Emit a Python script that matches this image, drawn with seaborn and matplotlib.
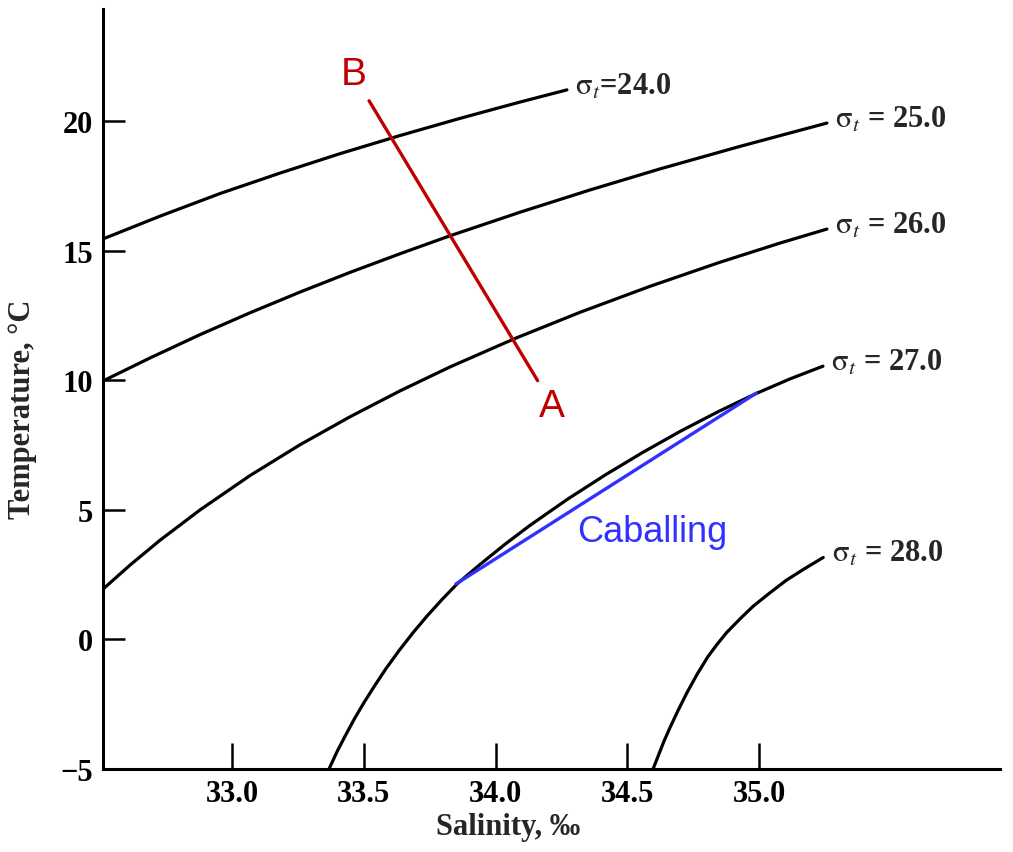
import matplotlib
matplotlib.use("Agg")
import matplotlib.pyplot as plt
import pandas as pd
import seaborn as sns

# Isopycnals of sigma-t on a T-S diagram (salinity in per mille, temperature in deg C)
sigma_levels = ["24.0", "25.0", "26.0", "27.0", "28.0"]

sal_24 = [32.510, 32.727, 32.954, 33.182, 33.410, 33.638, 33.865, 34.093, 34.271]
temp_24 = [15.45, 16.33, 17.20, 17.99, 18.74, 19.44, 20.10, 20.73, 21.20]

sal_25 = [32.510, 32.689, 32.879, 33.068, 33.258, 33.448, 33.638, 33.827,
          34.093, 34.359, 34.624, 34.928, 35.258]
temp_25 = [9.97, 10.86, 11.76, 12.60, 13.40, 14.16, 14.88, 15.57,
           16.48, 17.34, 18.15, 19.02, 19.92]

sal_26 = [32.510, 32.613, 32.727, 32.879, 33.068, 33.258, 33.448, 33.638,
          33.827, 34.074, 34.321, 34.586, 34.852, 35.080, 35.258]
temp_26 = [1.94, 2.87, 3.83, 5.00, 6.32, 7.51, 8.59, 9.59,
           10.51, 11.61, 12.62, 13.62, 14.55, 15.29, 15.83]

sal_27 = [33.368, 33.398, 33.429, 33.463, 33.501, 33.543, 33.584, 33.634,
          33.687, 33.740, 33.797, 33.854, 33.941, 34.036, 34.131, 34.275,
          34.419, 34.560, 34.700, 34.844, 34.988, 35.118, 35.243]
temp_27 = [-5.00, -4.34, -3.73, -3.09, -2.43, -1.76, -1.13, -0.43,
           0.26, 0.90, 1.54, 2.14, 2.89, 3.67, 4.40, 5.42,
           6.36, 7.22, 8.02, 8.78, 9.48, 10.05, 10.54]

sal_28 = [34.598, 34.617, 34.639, 34.662, 34.693, 34.727, 34.765, 34.806,
          34.841, 34.877, 34.928, 34.978, 35.042, 35.105, 35.175, 35.244]
temp_28 = [-5.00, -4.51, -3.94, -3.41, -2.74, -2.05, -1.35, -0.67,
           -0.19, 0.26, 0.79, 1.28, 1.80, 2.29, 2.74, 3.16]

# Mixing line B-A and the caballing segment
mix_sal = [33.52, 34.16]
mix_temp = [20.78, 9.98]
cab_sal = [33.85, 34.99]
cab_temp = [2.14, 9.50]

x_ticks = [33.0, 33.5, 34.0, 34.5, 35.0]
y_ticks = [-5, 0, 5, 10, 15, 20]

sns.set_theme(style="ticks")
plt.rcParams["font.family"] = ["Liberation Serif", "DejaVu Serif"]
plt.rcParams["mathtext.fontset"] = "stix"

all_sal = [sal_24, sal_25, sal_26, sal_27, sal_28]
all_temp = [temp_24, temp_25, temp_26, temp_27, temp_28]

frames = []
for lvl, s, t in zip(sigma_levels, all_sal, all_temp):
    frames.append(pd.DataFrame({"salinity": s, "temperature": t, "sigma": lvl}))
iso = pd.concat(frames, ignore_index=True)

W, H = 1013, 853
fig = plt.figure(figsize=(W / 100, H / 100), dpi=100)
ax = fig.add_axes([103 / W, 83 / H, 897 / W, 760 / H])

sns.lineplot(data=iso, x="salinity", y="temperature", units="sigma",
             estimator=None, sort=False, color="black", lw=2.3, ax=ax,
             legend=False)
sns.lineplot(x=mix_sal, y=mix_temp, color="#c00000", lw=2.4, ax=ax,
             sort=False, estimator=None)
sns.lineplot(x=cab_sal, y=cab_temp, color="#3030ff", lw=2.4, ax=ax,
             sort=False, estimator=None)

# sigma-t labels at the end of each isopycnal
for lvl, s, t in zip(sigma_levels, all_sal, all_temp):
    eq = "=" if lvl == "24.0" else " = "
    ax.annotate(r"$\mathrm{\sigma}_t$" + eq + lvl, xy=(s[-1], t[-1]),
                xytext=(6, 3), textcoords="offset points",
                ha="left", va="center", fontsize=22, fontweight="bold")

ax.text(33.463, 21.43, "B", color="#c00000", fontsize=28,
        family="Liberation Sans", ha="center", va="baseline")
ax.text(34.213, 8.62, "A", color="#c00000", fontsize=28,
        family="Liberation Sans", ha="center", va="baseline")
ax.text(34.594, 3.81, "Caballing", color="#3030ff", fontsize=26,
        family="Liberation Sans", ha="center", va="baseline")

ax.set_xlim(32.51, 35.915)
ax.set_ylim(-5, 24.32)
ax.set_xticks(x_ticks)
ax.set_xticklabels([f"{v:.1f}" for v in x_ticks])
ax.set_yticks(y_ticks)
ax.set_yticklabels(["\u2212" + str(-v) if v < 0 else str(v) for v in y_ticks])

ax.tick_params(axis="x", direction="in", length=19, width=1.8, pad=7,
               labelsize=22, colors="black")
ax.tick_params(axis="y", direction="in", length=16, width=1.8, pad=7,
               labelsize=22, colors="black")
for lab in ax.get_xticklabels() + ax.get_yticklabels():
    lab.set_fontweight("bold")

sns.despine(ax=ax)
for side in ("left", "bottom"):
    ax.spines[side].set_linewidth(2.2)
    ax.spines[side].set_color("black")

ax.set_xlabel("Salinity, \u2030", fontsize=22, fontweight="bold")
ax.set_ylabel("Temperature, \u00b0C", fontsize=22, fontweight="bold")
ax.xaxis.set_label_coords((508 - 103) / 897, -(813 - 770) / 760)
ax.yaxis.set_label_coords(-(103 - 22) / 897, (770 - 409) / 760)
ax.xaxis.label.set_va("top")
ax.yaxis.label.set_va("center")

fig.savefig("out.png", dpi=100)
